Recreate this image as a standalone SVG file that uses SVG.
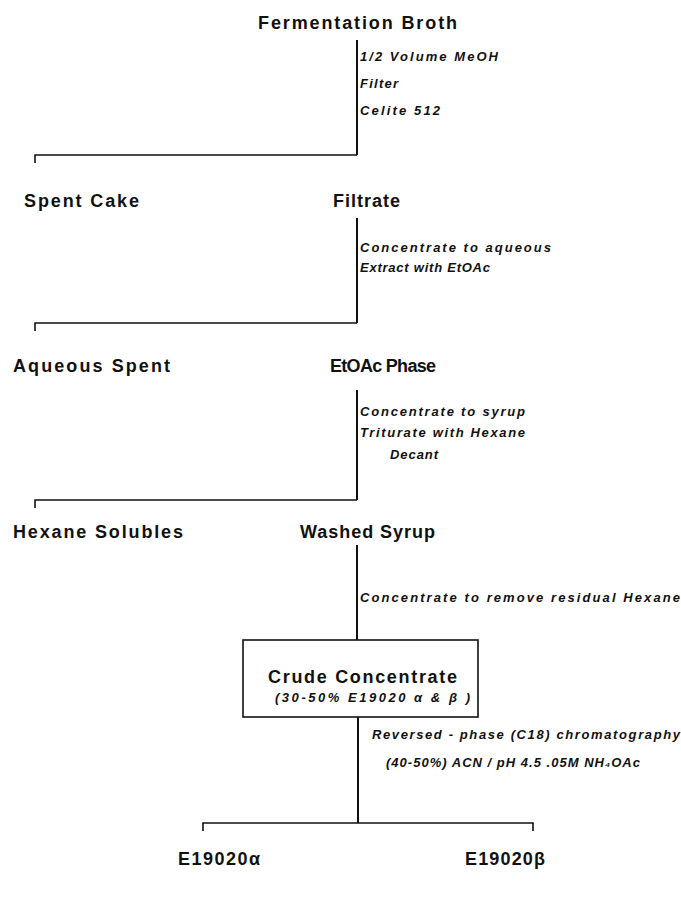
<svg xmlns="http://www.w3.org/2000/svg" width="681" height="902" viewBox="0 0 681 902">
<style>
.h{font-family:"Liberation Sans",Arial,sans-serif;font-weight:bold;font-size:18px;fill:#111}
.l{font-family:"Liberation Sans",Arial,sans-serif;font-weight:bold;font-style:italic;font-size:13px;fill:#111}
.c{stroke:#111;stroke-width:2;fill:none}
.b{stroke:#111;stroke-width:1.6;fill:none}
</style>
<rect width="681" height="902" fill="#fff"/>
<g id="connectors">
<path class="c" d="M357 40V155"/>
<path class="b" d="M35 163V155H357"/>
<path class="c" d="M357 218V323"/>
<path class="b" d="M35 331V323H357"/>
<path class="c" d="M357 390V500"/>
<path class="b" d="M35 508V500H357"/>
<path class="c" d="M357 545V640"/>
<path class="c" d="M358 717V823"/>
<path class="b" d="M203 831V823H533V831"/>
</g>
<g id="step-labels">
<text class="l" x="360" y="61" textLength="138" lengthAdjust="spacing">1/2 Volume MeOH</text>
<text class="l" x="360" y="88" textLength="38" lengthAdjust="spacing">Filter</text>
<text class="l" x="360" y="115" textLength="80" lengthAdjust="spacing">Celite 512</text>
<text class="l" x="360" y="252" textLength="191" lengthAdjust="spacing">Concentrate to aqueous</text>
<text class="l" x="360" y="272" textLength="130" lengthAdjust="spacing">Extract with EtOAc</text>
<text class="l" x="360" y="416" textLength="165" lengthAdjust="spacing">Concentrate to syrup</text>
<text class="l" x="360" y="437" textLength="165" lengthAdjust="spacing">Triturate with Hexane</text>
<text class="l" x="390" y="459" textLength="48" lengthAdjust="spacing">Decant</text>
<text class="l" x="360" y="602" textLength="320" lengthAdjust="spacing">Concentrate to remove residual Hexane</text>
<text class="l" x="372" y="739" textLength="308" lengthAdjust="spacing">Reversed - phase (C18) chromatography</text>
<text class="l" x="386" y="767" textLength="254" lengthAdjust="spacing">(40-50%) ACN / pH 4.5 .05M NH₄OAc</text>
</g>
<g id="fermentation-broth"><text class="h" x="258" y="29" textLength="199" lengthAdjust="spacing">Fermentation Broth</text></g>
<g id="spent-cake"><text class="h" x="24" y="207" textLength="115" lengthAdjust="spacing">Spent Cake</text></g>
<g id="filtrate"><text class="h" x="333" y="207" textLength="67" lengthAdjust="spacing">Filtrate</text></g>
<g id="aqueous-spent"><text class="h" x="13" y="372" textLength="157" lengthAdjust="spacing">Aqueous Spent</text></g>
<g id="etoac-phase"><text class="h" x="330" y="372" textLength="106" lengthAdjust="spacing">EtOAc Phase</text></g>
<g id="hexane-solubles"><text class="h" x="13" y="538" textLength="170" lengthAdjust="spacing">Hexane Solubles</text></g>
<g id="washed-syrup"><text class="h" x="300" y="538" textLength="135" lengthAdjust="spacing">Washed Syrup</text></g>
<g id="crude-concentrate">
<rect class="b" x="243" y="640" width="235" height="77"/>
<text class="h" x="268" y="683" textLength="189" lengthAdjust="spacing">Crude Concentrate</text>
<text class="l" x="275" y="702" textLength="195" lengthAdjust="spacing">(30-50%  E19020 α &amp;  β )</text>
</g>
<g id="e19020-alpha"><text class="h" x="178" y="865" textLength="82" lengthAdjust="spacing">E19020α</text></g>
<g id="e19020-beta"><text class="h" x="465" y="865" textLength="80" lengthAdjust="spacing">E19020β</text></g>
</svg>
